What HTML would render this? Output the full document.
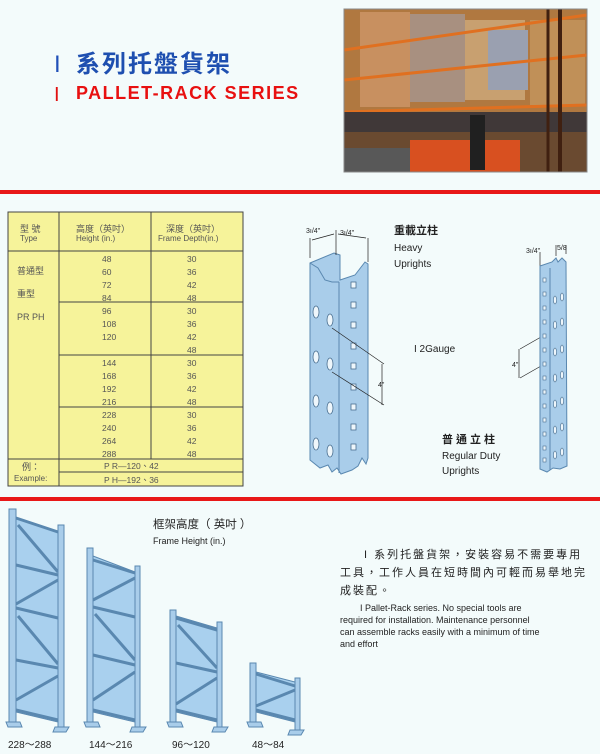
<!DOCTYPE html>
<html><head><meta charset="utf-8"><style>
html,body{margin:0;padding:0;background:#f3fbfb;}
body{width:600px;height:754px;position:relative;overflow:hidden;font-family:"Liberation Sans","Noto Sans CJK TC",sans-serif;}
svg text{font-family:"Liberation Sans","Noto Sans CJK TC",sans-serif;}
</style></head><body>
<svg width="600" height="754" viewBox="0 0 600 754" xmlns="http://www.w3.org/2000/svg" style="position:absolute;left:0;top:0">
<!-- title -->
<text x="54" y="72" font-family="Liberation Serif" font-size="24" fill="#2050b8">I</text>
<text x="76" y="72" font-size="24" font-weight="bold" fill="#1e4fb0" letter-spacing="2">系列托盤貨架</text>
<text x="54" y="101" font-family="Liberation Serif" font-size="20" fill="#e01010">I</text>
<text x="76" y="99" font-size="18" font-weight="bold" fill="#e81010" letter-spacing="1.5">PALLET-RACK SERIES</text>
<!-- photo -->
<g>
<rect x="344" y="9" width="243" height="163" fill="#6a4a30"/>
<rect x="344" y="9" width="243" height="105" fill="#b07840"/>
<rect x="360" y="12" width="50" height="95" fill="#c89060"/>
<rect x="410" y="14" width="55" height="88" fill="#a89080"/>
<rect x="465" y="20" width="60" height="80" fill="#c8a070"/>
<rect x="488" y="30" width="40" height="60" fill="#9aa0b0"/>
<rect x="530" y="20" width="55" height="85" fill="#c09058"/>
<line x1="344" y1="80" x2="587" y2="55" stroke="#e07020" stroke-width="3"/>
<line x1="344" y1="50" x2="587" y2="15" stroke="#e07020" stroke-width="3"/>
<line x1="344" y1="112" x2="587" y2="105" stroke="#e07020" stroke-width="3"/>
<rect x="344" y="112" width="243" height="20" fill="#403838"/>
<rect x="344" y="148" width="80" height="24" fill="#585858"/>
<rect x="410" y="140" width="110" height="32" fill="#d85020"/>
<rect x="470" y="115" width="15" height="55" fill="#202020"/>
<line x1="560" y1="9" x2="560" y2="172" stroke="#402010" stroke-width="4"/>
<line x1="548" y1="9" x2="548" y2="172" stroke="#402010" stroke-width="3"/>
<rect x="344" y="9" width="243" height="163" fill="none" stroke="#888" stroke-width="1"/>
</g>
<!-- red lines -->
<rect x="0" y="190" width="600" height="4" fill="#e81818"/>
<rect x="0" y="497" width="600" height="4" fill="#e81818"/>
<!-- table -->
<g font-size="9" fill="#555">
<rect x="8" y="212" width="235" height="274" fill="#f6f39a" stroke="#444" stroke-width="1"/>
<line x1="59" y1="212" x2="59" y2="486" stroke="#444"/>
<line x1="151" y1="212" x2="151" y2="459" stroke="#444"/>
<line x1="8" y1="251" x2="243" y2="251" stroke="#444"/>
<line x1="59" y1="302" x2="243" y2="302" stroke="#444"/>
<line x1="59" y1="355" x2="243" y2="355" stroke="#444"/>
<line x1="59" y1="407" x2="243" y2="407" stroke="#444"/>
<line x1="8" y1="459" x2="243" y2="459" stroke="#444"/>
<line x1="59" y1="472" x2="243" y2="472" stroke="#444"/>
<text x="20" y="232" font-size="9">型 號</text><text x="20" y="241" font-size="8">Type</text>
<text x="76" y="232">高度（英吋）</text><text x="76" y="241" font-size="8">Height (in.)</text>
<text x="166" y="232">深度（英吋）</text><text x="158" y="241" font-size="8">Frame Depth(in.)</text>
<text x="17" y="274">普通型</text><text x="17" y="297">重型</text><text x="17" y="320">PR PH</text>
<g font-size="8.5">
<text x="102" y="262">48</text><text x="102" y="275">60</text><text x="102" y="288">72</text><text x="102" y="301">84</text>
<text x="102" y="314">96</text><text x="102" y="327">108</text><text x="102" y="340">120</text>
<text x="102" y="366">144</text><text x="102" y="379">168</text><text x="102" y="392">192</text><text x="102" y="405">216</text>
<text x="102" y="418">228</text><text x="102" y="431">240</text><text x="102" y="444">264</text><text x="102" y="457">288</text>
<g>
<text x="187" y="262">30</text><text x="187" y="275">36</text><text x="187" y="288">42</text><text x="187" y="301">48</text>
<text x="187" y="314">30</text><text x="187" y="327">36</text><text x="187" y="340">42</text><text x="187" y="353">48</text>
<text x="187" y="366">30</text><text x="187" y="379">36</text><text x="187" y="392">42</text><text x="187" y="405">48</text>
<text x="187" y="418">30</text><text x="187" y="431">36</text><text x="187" y="444">42</text><text x="187" y="457">48</text>
</g>
<text x="104" y="469">P R—120、42</text>
<text x="104" y="483">P H—192、36</text>
</g>
<text x="22" y="470">例：</text><text x="14" y="481" font-size="8">Example:</text>
</g>
<!-- heavy upright -->
<g stroke="#5a88b0" stroke-width="1" fill="#a9cdea">
<path d="M310 263 L334 253 L340 255 L340 280 L355 275 L365 262 L368 264 L368 458 L366 464 L362 458 L358 466 L352 470 L341 474 L337 468 L332 472 L328 465 L320 468 L310 460 Z"/>
<line x1="339" y1="282" x2="339" y2="473"/>
<path d="M310 263 L318 268 L325 280 L332 282 L339 282" fill="none"/>
</g>
<g fill="#eef6fb" stroke="#4a6f90" stroke-width="0.8">
<rect x="351" y="282" width="5" height="6"/><rect x="351" y="302" width="5" height="6"/><rect x="351" y="322" width="5" height="6"/><rect x="351" y="343" width="5" height="6"/><rect x="351" y="363" width="5" height="6"/><rect x="351" y="384" width="5" height="6"/><rect x="351" y="404" width="5" height="6"/><rect x="351" y="424" width="5" height="6"/><rect x="351" y="444" width="5" height="6"/>
<ellipse cx="316" cy="312" rx="3" ry="6"/><ellipse cx="330" cy="320" rx="3" ry="6"/>
<ellipse cx="316" cy="357" rx="3" ry="6"/><ellipse cx="330" cy="364" rx="3" ry="6"/>
<ellipse cx="316" cy="401" rx="3" ry="6"/><ellipse cx="330" cy="408" rx="3" ry="6"/>
<ellipse cx="316" cy="444" rx="3" ry="6"/><ellipse cx="330" cy="451" rx="3" ry="6"/>
</g>
<g stroke="#222" stroke-width="0.7" fill="none">
<path d="M332 328 L384 364 M332 372 L384 405 M382 364 L382 405"/>
<path d="M310 258 L310 238 M336 255 L336 230 M368 262 L368 238 M312 240 L334 234 M338 234 L366 238"/>
<path d="M520 349 L548 333 M520 378 L548 362 M519 349 L519 378"/>
<path d="M540 266 L540 252 M556 256 L556 245 M566 254 L566 245"/>
</g>
<g font-size="7" fill="#222">
<text x="306" y="233">3ı/4"</text><text x="340" y="235">3ı/4"</text>
<text x="378" y="387">4"</text>
<text x="526" y="253">3ı/4"</text><text x="557" y="250">5/8</text>
<text x="512" y="367">4"</text>
</g>
<text x="394" y="234" font-size="11" fill="#222" font-weight="bold">重載立柱</text>
<text x="394" y="251" font-size="10" fill="#222">Heavy</text>
<text x="394" y="267" font-size="10" fill="#222">Uprights</text>
<text x="414" y="352" font-size="10" fill="#222">I 2Gauge</text>
<text x="442" y="443" font-size="11" fill="#222" font-weight="bold" letter-spacing="3">普通立柱</text>
<text x="442" y="459" font-size="10" fill="#222">Regular Duty</text>
<text x="442" y="474" font-size="10" fill="#222">Uprights</text>
<!-- regular upright -->
<g stroke="#5a88b0" stroke-width="1" fill="#a9cdea">
<path d="M540 266 L552 262 L556 258 L558 262 L562 258 L566 262 L567 466 L560 469 L553 468 L547 472 L540 469 Z"/>
<line x1="550" y1="268" x2="550" y2="470"/>
</g>
<g fill="#eef6fb" stroke="#4a6f90" stroke-width="0.6">
<rect x="543" y="278" width="3" height="4"/><rect x="543" y="292" width="3" height="4"/><rect x="543" y="306" width="3" height="4"/><rect x="543" y="320" width="3" height="4"/><rect x="543" y="334" width="3" height="4"/><rect x="543" y="348" width="3" height="4"/><rect x="543" y="362" width="3" height="4"/><rect x="543" y="376" width="3" height="4"/><rect x="543" y="390" width="3" height="4"/><rect x="543" y="404" width="3" height="4"/><rect x="543" y="418" width="3" height="4"/><rect x="543" y="432" width="3" height="4"/><rect x="543" y="446" width="3" height="4"/><rect x="543" y="458" width="3" height="4"/>
<ellipse cx="555" cy="300" rx="1.5" ry="4"/><ellipse cx="562" cy="297" rx="1.5" ry="4"/>
<ellipse cx="555" cy="325" rx="1.5" ry="4"/><ellipse cx="562" cy="322" rx="1.5" ry="4"/>
<ellipse cx="555" cy="352" rx="1.5" ry="4"/><ellipse cx="562" cy="349" rx="1.5" ry="4"/>
<ellipse cx="555" cy="378" rx="1.5" ry="4"/><ellipse cx="562" cy="375" rx="1.5" ry="4"/>
<ellipse cx="555" cy="404" rx="1.5" ry="4"/><ellipse cx="562" cy="401" rx="1.5" ry="4"/>
<ellipse cx="555" cy="430" rx="1.5" ry="4"/><ellipse cx="562" cy="427" rx="1.5" ry="4"/>
<ellipse cx="555" cy="455" rx="1.5" ry="4"/><ellipse cx="562" cy="452" rx="1.5" ry="4"/>
</g>
<!-- frames -->
<g stroke="#5a88b0" stroke-width="1">
<polygon points="16,518 58,532 58,722 16,712" fill="#a9d0ee"/>
<g fill="none" stroke="#5a88b0" stroke-width="3">
<line x1="16" y1="518" x2="58" y2="532"/><line x1="16" y1="565" x2="58" y2="575"/><line x1="16" y1="608" x2="58" y2="618"/><line x1="16" y1="660" x2="58" y2="668"/><line x1="16" y1="710" x2="58" y2="720"/>
<line x1="18" y1="525" x2="58" y2="572"/><line x1="16" y1="604" x2="58" y2="580"/><line x1="18" y1="616" x2="58" y2="664"/><line x1="16" y1="700" x2="58" y2="676"/>
</g>
<rect x="9" y="509" width="7" height="213" fill="#a9cdea"/><rect x="58" y="525" width="6" height="202" fill="#a9cdea"/>
<polygon points="6,722 20,722 22,727 8,727" fill="#a9cdea"/><polygon points="55,727 69,727 66,732 53,732" fill="#a9cdea"/>
<polygon points="93,556 135,572 135,722 93,712" fill="#a9d0ee"/>
<g fill="none" stroke="#5a88b0" stroke-width="3">
<line x1="93" y1="560" x2="135" y2="573"/><line x1="93" y1="607" x2="135" y2="617"/><line x1="93" y1="655" x2="135" y2="665"/><line x1="93" y1="710" x2="135" y2="720"/>
<line x1="135" y1="578" x2="93" y2="600"/><line x1="95" y1="614" x2="135" y2="660"/><line x1="135" y1="672" x2="93" y2="700"/>
</g>
<rect x="87" y="548" width="6" height="174" fill="#a9cdea"/><rect x="135" y="566" width="5" height="161" fill="#a9cdea"/>
<polygon points="84,722 98,722 100,727 86,727" fill="#a9cdea"/><polygon points="132,727 146,727 143,732 130,732" fill="#a9cdea"/>
<polygon points="176,616 217,628 217,722 176,712" fill="#a9d0ee"/>
<g fill="none" stroke="#5a88b0" stroke-width="3">
<line x1="176" y1="618" x2="217" y2="630"/><line x1="176" y1="663" x2="217" y2="672"/><line x1="176" y1="710" x2="217" y2="720"/>
<line x1="178" y1="625" x2="217" y2="668"/><line x1="217" y1="678" x2="176" y2="704"/>
</g>
<rect x="170" y="610" width="6" height="112" fill="#a9cdea"/><rect x="217" y="622" width="5" height="105" fill="#a9cdea"/>
<polygon points="167,722 181,722 183,727 169,727" fill="#a9cdea"/><polygon points="214,727 228,727 225,732 212,732" fill="#a9cdea"/>
<polygon points="256,672 295,682 295,722 256,712" fill="#a9d0ee"/>
<g fill="none" stroke="#5a88b0" stroke-width="3">
<line x1="256" y1="674" x2="295" y2="686"/><line x1="256" y1="710" x2="295" y2="720"/><line x1="295" y1="690" x2="256" y2="706"/>
</g>
<rect x="250" y="663" width="6" height="59" fill="#a9cdea"/><rect x="295" y="678" width="5" height="52" fill="#a9cdea"/>
<polygon points="247,722 261,722 263,727 249,727" fill="#a9cdea"/><polygon points="290,730 304,730 301,735 288,735" fill="#a9cdea"/>
</g>
<g font-size="10" fill="#222">
<text x="8" y="748">228～288</text><text x="89" y="748">144～216</text><text x="172" y="748">96～120</text><text x="252" y="748">48～84</text>
</g>
<text x="153" y="528" font-size="11.5" fill="#222">框架高度（ 英吋 ）</text>
<text x="153" y="544" font-size="9" fill="#222">Frame Height (in.)</text>
<g font-size="11" fill="#222" letter-spacing="2">
<text x="364" y="558">I 系列托盤貨架，安裝容易不需要專用</text>
<text x="340" y="576">工具，工作人員在短時間內可輕而易舉地完</text>
<text x="340" y="594">成裝配。</text>
</g>
<g font-size="9" fill="#222">
<text x="360" y="611">I  Pallet-Rack series. No special  tools  are</text>
<text x="340" y="623">required for installation. Maintenance personnel</text>
<text x="340" y="635">can assemble racks easily with a minimum of time</text>
<text x="340" y="647">and effort</text>
</g>
</svg>
</body></html>
